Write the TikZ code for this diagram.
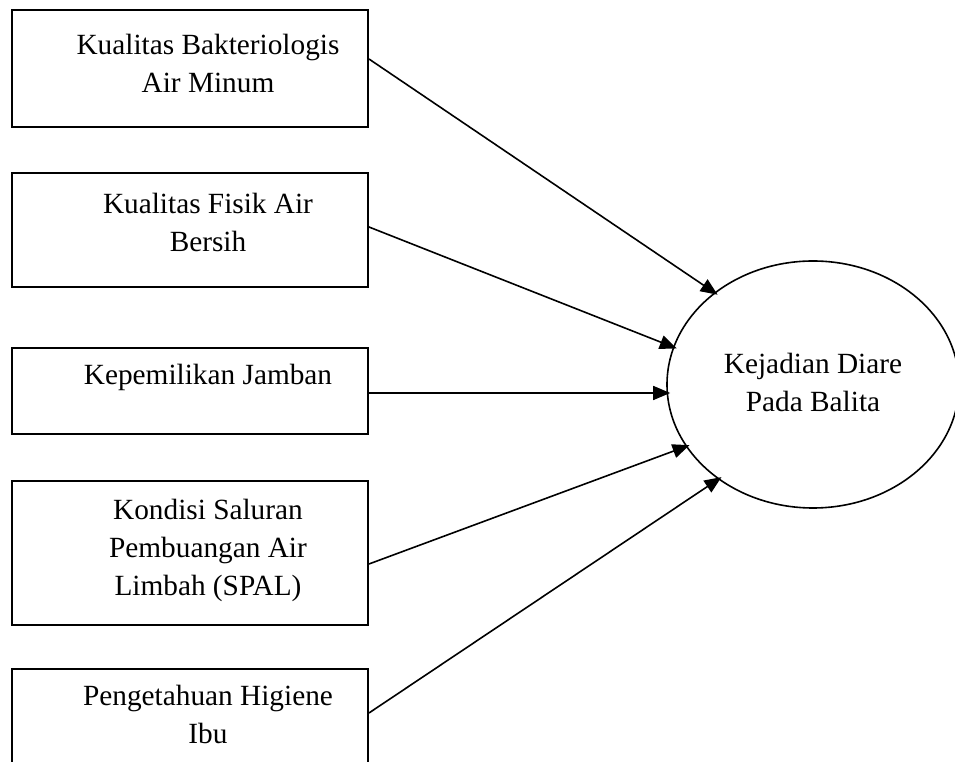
\documentclass[tikz,border=0pt]{standalone}
\usepackage{fontspec}
\setmainfont{Liberation Serif}
\usetikzlibrary{arrows.meta,shapes.geometric}
\begin{document}
\begin{tikzpicture}[x=1pt,y=1pt,
  boxnode/.style={draw=black,line width=1.9pt,rectangle,minimum width=356pt,inner sep=0pt},
  txt/.style={align=center,inner sep=0pt,font=\fontsize{29.3}{38}\selectfont},
  conn/.style={line width=1.6pt,-{Triangle[length=17pt,width=14pt]},shorten >=-4pt}]
\clip (0,0) rectangle (955,762);
% boxes
\node[boxnode,minimum height=117pt] (b1) at (190,693.5) {};
\node[boxnode,minimum height=114pt] (b2) at (190,532) {};
\node[boxnode,minimum height=86pt]  (b3) at (190,371) {};
\node[boxnode,minimum height=144pt] (b4) at (190,209) {};
\node[boxnode,minimum height=120pt] (b5) at (190,33) {};
% texts
\node[txt] (t1) at (208,698.5) {Kualitas Bakteriologis\\Air Minum};
\node[txt] (t2) at (208,539.5) {Kualitas Fisik Air\\Bersih};
\node[txt] (t3) at (208,385) {Kepemilikan Jamban};
\node[txt] (t4) at (208,212) {Kondisi Saluran\\Pembuangan Air\\Limbah (SPAL)};
\node[txt] (t5) at (208,47.5) {Pengetahuan Higiene\\Ibu};
% ellipse
\node[draw=black,line width=1.6pt,ellipse,minimum width=292pt,minimum height=247pt,inner sep=0pt] (e) at (813,377.5) {};
\node[txt] (te) at (813,379.5) {Kejadian Diare\\Pada Balita};
% start points on box edges
\coordinate (s1) at ([yshift=9.5pt]b1.east);
\coordinate (s2) at ([yshift=3pt]b2.east);
\coordinate (s3) at ([yshift=-2pt]b3.east);
\coordinate (s4) at ([yshift=-11pt]b4.east);
\coordinate (s5) at ([yshift=16pt]b5.east);
% connectors
\draw[conn] (s1) -- (e.137);
\draw[conn] (s2) -- (e.165.4);
\draw[conn] (s3) -- (s3 -| e.west);
\draw[conn] (s4) -- (e.206.4);
\draw[conn] (s5) -- (e.225);
\end{tikzpicture}
\end{document}
